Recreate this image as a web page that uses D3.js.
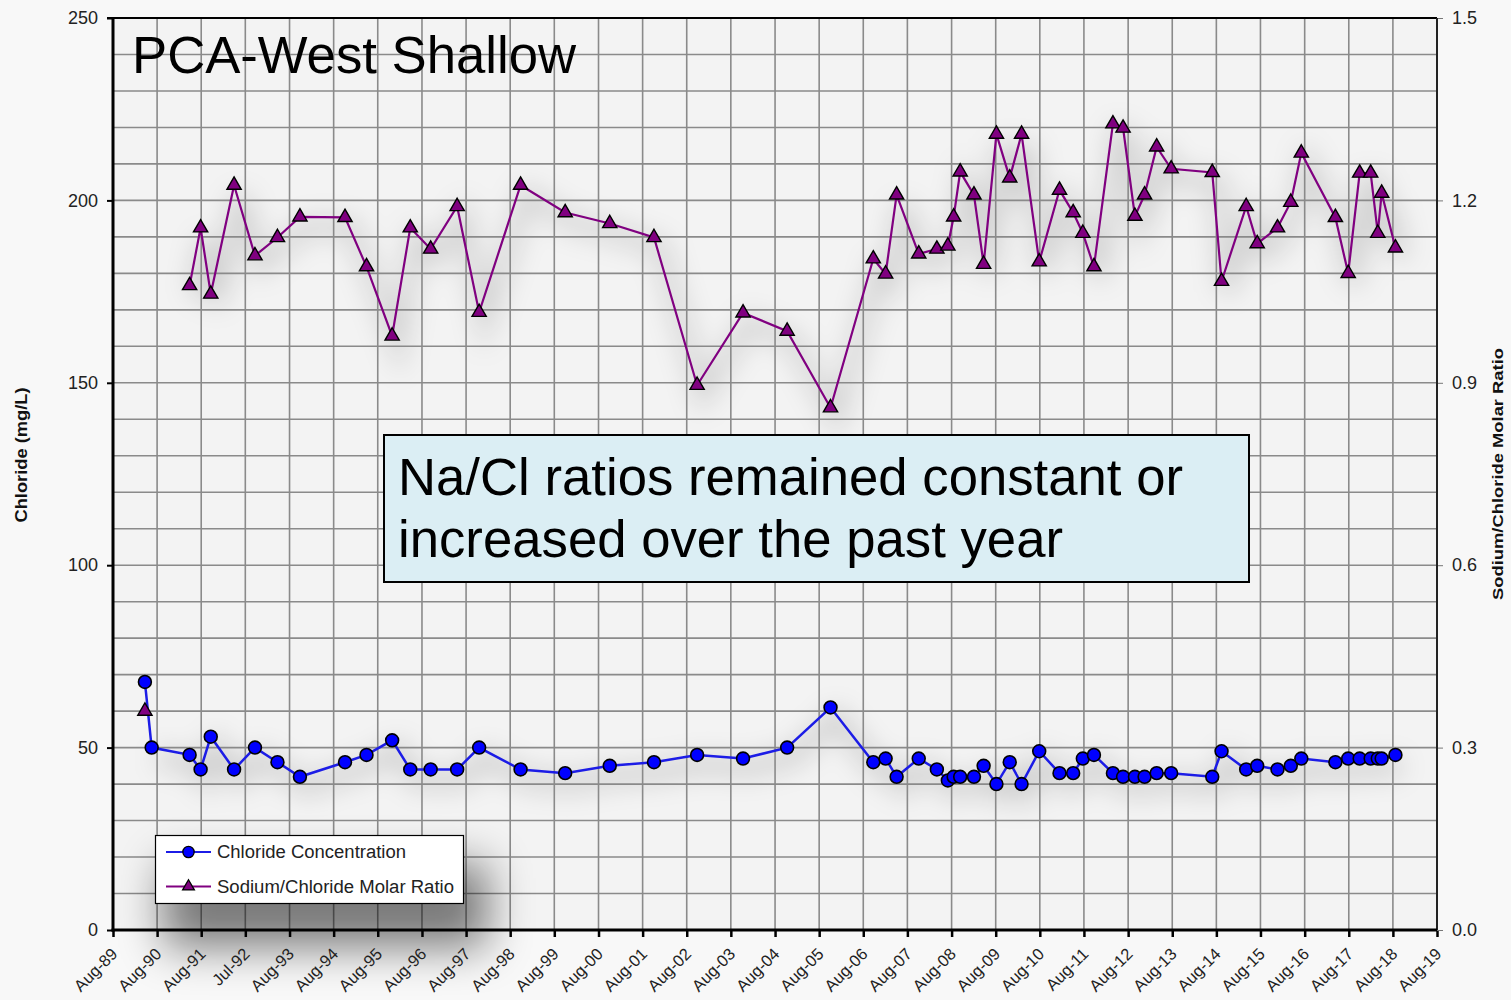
<!DOCTYPE html>
<html>
<head>
<meta charset="utf-8">
<script src="https://cdn.jsdelivr.net/npm/d3@7"></script>
<style>
  html, body { margin: 0; padding: 0; background: #f8f8f8; }
  svg { display: block; font-family: "Liberation Sans", Arial, sans-serif; }
</style>
</head>
<body>
<svg id="chart" width="1511" height="1000"></svg>
<script>
// Sampling dates for the PCA-West shallow well
const sampleDates = [
  "1990-04-22","1990-06-17","1991-04-27","1991-07-27","1991-10-19","1992-04-29","1992-10-19",
  "1993-04-23","1993-10-26","1994-11-03","1995-04-30","1995-11-28","1996-04-26","1996-10-12",
  "1997-05-19","1997-11-17","1998-10-26","1999-10-30","2000-11-02","2001-11-03","2002-10-26",
  "2003-11-10","2004-11-09","2005-11-03","2006-10-23","2007-02-02","2007-05-04","2007-11-03",
  "2008-04-01","2008-07-01","2008-08-18","2008-10-11","2009-02-02","2009-04-23","2009-08-07",
  "2009-11-25","2010-03-03","2010-07-27","2011-01-11","2011-05-04","2011-07-23","2011-10-23",
  "2012-03-28","2012-06-20","2012-09-26","2012-12-15","2013-03-25","2013-07-23","2014-06-28",
  "2014-09-13","2015-04-05","2015-07-05","2015-12-20","2016-04-08","2016-07-04","2017-04-12",
  "2017-07-27","2017-10-30","2018-01-29","2018-03-29","2018-04-30","2018-08-22"
];

// Chloride concentration, mg/L
const chloride = [
  68, 50, 48, 44, 53, 44, 50, 46, 42, 46, 48, 52, 44, 44, 44, 50, 44, 43, 45, 46, 48,
  47, 50, 61, 46, 47, 42, 47, 44, 41, 42, 42, 42, 45, 40, 46, 40, 49, 43, 43, 47, 48,
  43, 42, 42, 42, 43, 43, 42, 49, 44, 45, 44, 45, 47, 46, 47, 47, 47, 47, 47, 48
];

// Sodium/chloride molar ratio (null = not analysed)
const naClRatio = [
  0.36, null, 1.06, 1.155, 1.046, 1.225, 1.109, 1.139, 1.173, 1.172, 1.091, 0.977, 1.155,
  1.12, 1.19, 1.016, 1.225, 1.18, 1.162, 1.139, 0.896, 1.015, 0.985, 0.859, 1.104, 1.079,
  1.209, 1.112, 1.12, 1.125, 1.173, 1.247, 1.209, 1.095, 1.309, 1.237, 1.309, 1.099, 1.217,
  1.18, 1.146, 1.091, 1.326, 1.319, 1.174, 1.209, 1.288, 1.252, 1.246, 1.067, 1.19, 1.129,
  1.155, 1.197, 1.278, 1.172, 1.08, 1.245, 1.245, 1.146, 1.212, 1.122
];

// Date axis ticks (one per year) and their labels
const xTickDates = [
  "1989-08-01","1990-08-01","1991-08-01","1992-07-31","1993-08-01","1994-08-01","1995-08-01",
  "1996-08-01","1997-08-01","1998-08-01","1999-08-01","2000-08-01","2001-08-01","2002-08-01",
  "2003-08-01","2004-08-01","2005-08-01","2006-08-01","2007-08-01","2008-08-01","2009-08-01",
  "2010-08-01","2011-08-01","2012-08-01","2013-08-01","2014-08-01","2015-08-01","2016-08-01",
  "2017-08-01","2018-08-01","2019-08-01"
];
const xTickLabels = [
  "Aug-89","Aug-90","Aug-91","Jul-92","Aug-93","Aug-94","Aug-95","Aug-96","Aug-97","Aug-98",
  "Aug-99","Aug-00","Aug-01","Aug-02","Aug-03","Aug-04","Aug-05","Aug-06","Aug-07","Aug-08",
  "Aug-09","Aug-10","Aug-11","Aug-12","Aug-13","Aug-14","Aug-15","Aug-16","Aug-17","Aug-18","Aug-19"
];
const chlorideTicks = [0, 50, 100, 150, 200, 250];
const ratioTicks = [0, 0.3, 0.6, 0.9, 1.2, 1.5];
const seriesNames = ["Chloride Concentration", "Sodium/Chloride Molar Ratio"];
const chartTitle = "PCA-West Shallow";
const noteLines = ["Na/Cl ratios remained constant or", "increased over the past year"];

// ---------------------------------------------------------------------------
const FONT = '"Liberation Sans", Arial, sans-serif';
const svg = d3.select("#chart");
const plot = { left: 113, right: 1437, top: 18, bottom: 930 };
const parse = d3.utcParse("%Y-%m-%d");

const x = d3.scaleUtc()
  .domain([parse(xTickDates[0]), parse(xTickDates[xTickDates.length - 1])])
  .range([plot.left, plot.right]);
const yCl = d3.scaleLinear().domain([0, 250]).range([plot.bottom, plot.top]);
const yRatio = d3.scaleLinear().domain([0, 1.5]).range([plot.bottom, plot.top]);

const rows = sampleDates.map((d, i) => ({ date: parse(d), cl: chloride[i], ratio: naClRatio[i] }));
const ratioRows = rows.filter(r => r.ratio != null);

const BLUE = "#0000ff", BLUE_LINE = "#1c1ce6", PURPLE = "#800080";

// filters for soft shadows
const defs = svg.append("defs");
defs.append("filter").attr("id", "haze").attr("filterUnits", "userSpaceOnUse")
  .attr("x", 0).attr("y", 0).attr("width", 1511).attr("height", 1000)
  .append("feGaussianBlur").attr("stdDeviation", 13);
defs.append("filter").attr("id", "legendShadow").attr("filterUnits", "userSpaceOnUse")
  .attr("x", 0).attr("y", 600).attr("width", 900).attr("height", 400)
  .append("feGaussianBlur").attr("stdDeviation", 22);

// plot background
svg.append("rect")
  .attr("x", plot.left).attr("y", plot.top)
  .attr("width", plot.right - plot.left).attr("height", plot.bottom - plot.top)
  .attr("fill", "#f3f3f3");

// soft shadows under the series
const shadow = svg.append("g").attr("filter", "url(#haze)").attr("transform", "translate(6,10)");
const lineCl = d3.line().x(d => x(d.date)).y(d => yCl(d.cl));
const lineRatio = d3.line().defined(d => d.ratio != null).x(d => x(d.date)).y(d => yRatio(d.ratio));
shadow.append("path").datum(rows.slice(1)).attr("d", lineCl)
  .attr("fill", "none").attr("stroke", "#000").attr("stroke-opacity", 0.16).attr("stroke-width", 16);
shadow.append("path").datum(rows).attr("d", lineRatio)
  .attr("fill", "none").attr("stroke", "#000").attr("stroke-opacity", 0.14).attr("stroke-width", 16);

// gridlines
const grid = svg.append("g").attr("stroke", "#8a8a8a").attr("stroke-width", 1.6);
grid.selectAll("line.h").data(d3.range(10, 250, 10)).join("line")
  .attr("x1", plot.left).attr("x2", plot.right)
  .attr("y1", d => yCl(d)).attr("y2", d => yCl(d));
grid.selectAll("line.v").data(xTickDates.slice(1, -1)).join("line")
  .attr("y1", plot.top).attr("y2", plot.bottom)
  .attr("x1", d => x(parse(d))).attr("x2", d => x(parse(d)));

// legend shadow (drawn before the axes so it sits behind them)
const legend = { x: 155.5, y: 835.5, w: 308, h: 68 };
svg.append("rect")
  .attr("x", legend.x + 8).attr("y", legend.y + 28)
  .attr("width", legend.w + 16).attr("height", legend.h + 16)
  .attr("fill", "#000").attr("opacity", 0.5).attr("filter", "url(#legendShadow)");

// axes
const xAxis = d3.axisBottom(x)
  .tickValues(xTickDates.map(parse))
  .tickFormat((d, i) => xTickLabels[i])
  .tickSize(7);
const gx = svg.append("g").attr("transform", `translate(0,${plot.bottom})`).call(xAxis)
  .attr("font-family", FONT);
gx.select(".domain").remove();
gx.selectAll(".tick line").attr("stroke", "#000").attr("stroke-width", 2.5);
gx.selectAll(".tick text")
  .attr("x", 0).attr("y", 0).attr("dy", 0)
  .attr("text-anchor", "end")
  .attr("transform", "translate(5,25) rotate(-45)")
  .attr("fill", "#222").style("font-size", "16.5px");

const gl = svg.append("g").attr("transform", `translate(${plot.left},0)`)
  .call(d3.axisLeft(yCl).tickValues(chlorideTicks).tickSize(6).tickPadding(9))
  .attr("font-family", FONT);
gl.select(".domain").remove();
gl.selectAll(".tick line").attr("stroke", "#000").attr("stroke-width", 2);
gl.selectAll(".tick text").attr("fill", "#222").style("font-size", "18px");

const gr = svg.append("g").attr("transform", `translate(${plot.right},0)`)
  .call(d3.axisRight(yRatio).tickValues(ratioTicks).tickFormat(d3.format(".1f")).tickSize(6).tickPadding(9))
  .attr("font-family", FONT);
gr.select(".domain").remove();
gr.selectAll(".tick line").attr("stroke", "#777").attr("stroke-width", 1);
gr.selectAll(".tick text").attr("fill", "#222").style("font-size", "18px");

// frame
svg.append("line").attr("x1", plot.left - 6).attr("x2", plot.right)
  .attr("y1", plot.top).attr("y2", plot.top).attr("stroke", "#000").attr("stroke-width", 2);
svg.append("line").attr("x1", plot.right).attr("x2", plot.right)
  .attr("y1", plot.top).attr("y2", plot.bottom).attr("stroke", "#222").attr("stroke-width", 2);
svg.append("line").attr("x1", plot.left).attr("x2", plot.left)
  .attr("y1", plot.top - 1).attr("y2", plot.bottom + 1.5).attr("stroke", "#000").attr("stroke-width", 3);
svg.append("line").attr("x1", plot.left - 1.5).attr("x2", plot.right)
  .attr("y1", plot.bottom).attr("y2", plot.bottom).attr("stroke", "#000").attr("stroke-width", 3);

// series: sodium/chloride ratio (right axis) and chloride (left axis)
const triangle = d3.symbol(d3.symbolTriangle, 88);
const circle = d3.symbol(d3.symbolCircle, 130);

svg.append("path").datum(rows).attr("d", lineRatio)
  .attr("fill", "none").attr("stroke", PURPLE).attr("stroke-width", 2.2);

svg.append("path").datum(rows).attr("d", lineCl)
  .attr("fill", "none").attr("stroke", BLUE_LINE).attr("stroke-width", 2.5);

svg.append("g").selectAll("path").data(ratioRows).join("path")
  .attr("d", triangle)
  .attr("transform", d => `translate(${x(d.date)},${yRatio(d.ratio)})`)
  .attr("fill", PURPLE).attr("stroke", "#000").attr("stroke-width", 1.4);

svg.append("g").selectAll("path").data(rows).join("path")
  .attr("d", circle)
  .attr("transform", d => `translate(${x(d.date)},${yCl(d.cl)})`)
  .attr("fill", BLUE).attr("stroke", "#000").attr("stroke-width", 1.6);

// axis titles
svg.append("text")
  .attr("transform", `translate(27,455) rotate(-90)`)
  .attr("text-anchor", "middle")
  .style("font-size", "16px").style("font-weight", "bold").attr("fill", "#111")
  .attr("textLength", 135).attr("lengthAdjust", "spacingAndGlyphs")
  .text("Chloride (mg/L)");
svg.append("text")
  .attr("transform", `translate(1503,474) rotate(-90)`)
  .attr("text-anchor", "middle")
  .style("font-size", "15px").style("font-weight", "bold").attr("fill", "#111")
  .attr("textLength", 252).attr("lengthAdjust", "spacingAndGlyphs")
  .text("Sodium/Chloride Molar Ratio");

// title
svg.append("text").attr("x", 132).attr("y", 73)
  .style("font-size", "51px").attr("fill", "#000")
  .attr("textLength", 444).attr("lengthAdjust", "spacingAndGlyphs")
  .text(chartTitle);

// annotation box
svg.append("rect").attr("x", 384).attr("y", 435).attr("width", 865).attr("height", 147)
  .attr("fill", "#dbeef4").attr("stroke", "#000").attr("stroke-width", 2);
const noteWidths = [785, 665];
svg.append("g").selectAll("text").data(noteLines).join("text")
  .attr("x", 398).attr("y", (d, i) => 495 + i * 62)
  .style("font-size", "51px").attr("fill", "#000")
  .attr("textLength", (d, i) => noteWidths[i]).attr("lengthAdjust", "spacingAndGlyphs")
  .text(d => d);

// legend
const lg = svg.append("g");
lg.append("rect").attr("x", legend.x).attr("y", legend.y).attr("width", legend.w).attr("height", legend.h)
  .attr("fill", "#fff").attr("stroke", "#000").attr("stroke-width", 1.2);
const entries = [
  { name: seriesNames[0], color: BLUE_LINE, fill: BLUE, sym: circle, size: 100, y: 852, w: 189 },
  { name: seriesNames[1], color: PURPLE, fill: PURPLE, sym: triangle, size: 60, y: 886.5, w: 237 }
];
entries.forEach(e => {
  lg.append("line").attr("x1", 166).attr("x2", 211).attr("y1", e.y).attr("y2", e.y)
    .attr("stroke", e.color).attr("stroke-width", 2.2);
  lg.append("path").attr("d", e.sym.size(e.size)())
    .attr("transform", `translate(188.5,${e.y})`)
    .attr("fill", e.fill).attr("stroke", "#000").attr("stroke-width", 1.3);
  lg.append("text").attr("x", 217).attr("y", e.y).attr("dy", "0.36em")
    .style("font-size", "18px").attr("fill", "#222")
    .attr("textLength", e.w).attr("lengthAdjust", "spacingAndGlyphs")
    .text(e.name);
});
</script>
</body>
</html>
